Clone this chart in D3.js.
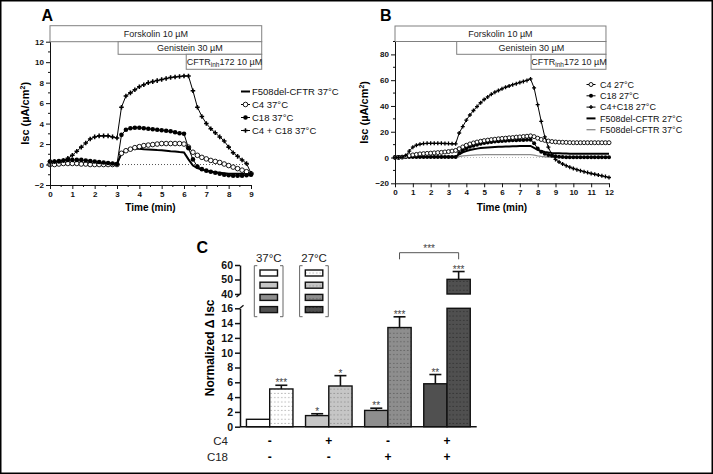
<!DOCTYPE html>
<html><head><meta charset="utf-8">
<script src="https://cdn.jsdelivr.net/npm/d3@7"></script>
<style>body{margin:0;background:#fff} svg{display:block} text{font-family:Arial,"Liberation Sans",sans-serif}</style>
</head><body>
<svg id="c" width="713" height="474"></svg>
<script>
// ---------- Panel A data (time in min, Isc in µA/cm²) ----------
const timeA = [0,0.2,0.4,0.6,0.8,1,1.2,1.4,1.6,1.8,2,2.2,2.4,2.6,2.8,3,3.2,3.4,3.6,3.8,4,4.2,4.4,4.6,4.8,5,5.2,5.4,5.6,5.8,6,6.2,6.4,6.6,6.8,7,7.2,7.4,7.6,7.8,8,8.2,8.4,8.6,8.8,9];
const a_F508 = [0.1,0.1,0.1,0.1,0.1,0.1,0.1,0.1,0.1,0.1,0.1,0.1,0.1,0.1,0.1,0.05,1.1,1.35,1.5,1.55,1.55,1.5,1.48,1.45,1.42,1.4,1.35,1.3,1.27,1.22,1.18,0.5,-0.1,-0.35,-0.5,-0.6,-0.7,-0.75,-0.8,-0.85,-0.9,-0.9,-0.9,-0.9,-0.9,-0.9];
const a_C4 = [0,0,0.05,0.1,0.1,0.1,0.1,0.05,0.05,0,0,0,0,0,0,0,1.1,1.35,1.5,1.65,1.75,1.85,1.9,1.95,2.0,2.05,2.05,2.05,2.05,2.05,2.0,1.7,1.2,0.9,0.7,0.55,0.4,0.3,0.2,0.05,-0.1,-0.25,-0.4,-0.55,-0.7,-0.9];
const a_C18 = [0.3,0.3,0.35,0.4,0.45,0.45,0.45,0.45,0.4,0.35,0.3,0.25,0.2,0.15,0.1,0.05,2.9,3.4,3.55,3.6,3.6,3.55,3.5,3.45,3.4,3.35,3.3,3.25,3.15,3.05,3.0,1.6,0.5,-0.2,-0.45,-0.6,-0.7,-0.8,-0.9,-1.0,-1.05,-1.1,-1.1,-1.1,-1.05,-1.0];
const a_C4C18 = [0.3,0.3,0.3,0.4,0.6,0.9,1.3,1.7,2.1,2.5,2.7,2.8,2.8,2.8,2.7,2.6,5.6,6.7,7.0,7.3,7.6,7.8,8.0,8.1,8.2,8.3,8.4,8.5,8.55,8.6,8.65,8.65,7.2,5.6,4.7,4.0,3.5,3.1,2.7,2.3,1.7,1.15,0.8,0.45,0.1,-0.85];
const legendA = ["F508del-CFTR 37°C","C4 37°C","C18 37°C","C4 + C18 37°C"];

// ---------- Panel B data ----------
const timeB = [0,0.2,0.4,0.6,0.8,1,1.2,1.4,1.6,1.8,2,2.2,2.4,2.6,2.8,3,3.2,3.4,3.6,3.8,4,4.2,4.4,4.6,4.8,5,5.2,5.4,5.6,5.8,6,6.2,6.4,6.6,6.8,7,7.2,7.4,7.6,7.8,8,8.2,8.4,8.6,8.8,9,9.2,9.4,9.6,9.8,10,10.2,10.4,10.6,10.8,11,11.2,11.4,11.6,11.8,12];
const b_C4 = [0,0,0.3,0.8,1.5,2,2.4,2.8,3.0,3.2,3.4,3.6,3.8,4.0,4.3,4.6,5.0,5.5,6.8,8.2,9.5,10.5,11.3,12,12.6,13.1,13.5,13.9,14.2,14.5,14.8,15.0,15.3,15.5,15.8,16.0,16.3,16.5,16.8,16.2,15,14,13.3,12.8,12.4,12.1,11.9,11.8,11.7,11.6,11.5,11.5,11.5,11.5,11.5,11.5,11.5,11.5,11.5,11.5,11.5];
const b_C18 = [0.4,0.4,0.4,0.4,0.4,0.4,0.4,0.4,0.4,0.4,0.4,0.4,0.4,0.4,0.4,0.4,0.4,0.4,3.5,5.5,7.2,8.3,9.2,10,10.7,11.2,11.7,12.1,12.4,12.6,12.8,13,13.2,13.3,13.4,13.5,13.6,13.7,13.8,11,7,4.5,3,2,1.3,0.9,0.6,0.4,0.3,0.3,0.3,0.3,0.3,0.3,0.3,0.3,0.3,0.3,0.3,0.3,0.3];
const b_C4C18 = [0,0,0.3,1.5,5,8,9.5,10.3,10.8,11,11,11,11,11,10.9,10.8,10.7,10.6,19,24,29,33,36.5,39.5,42.5,45,47,49,50.7,52,53.3,54.5,55.5,56.5,57.3,58.2,59,59.8,61,54,41,28,16,8,2,-1.5,-3.5,-5,-6.3,-7.5,-8.5,-9.4,-10.2,-11,-11.7,-12.4,-13,-13.6,-14.2,-14.8,-15.5];
const b_F27 = [0.5,0.5,0.5,0.5,0.5,0.5,0.5,0.5,0.5,0.5,0.5,0.5,0.5,0.5,0.5,0.5,0.5,0.5,2.5,4,5,5.8,6.4,6.9,7.3,7.6,7.8,8.0,8.2,8.3,8.4,8.5,8.6,8.7,8.8,8.9,9.0,9.0,9.0,7.5,6,5,4.3,3.9,3.6,3.4,3.3,3.2,3.1,3.0,3.0,3.0,3.0,3.0,3.0,3.0,3.0,3.0,3.0,3.0,3.0];
const b_F37 = [0.2,0.2,0.2,0.2,0.2,0.2,0.2,0.2,0.2,0.2,0.2,0.2,0.2,0.2,0.2,0.2,0.2,0.2,0.8,1.2,1.5,1.7,1.9,2.0,2.1,2.2,2.2,2.2,2.2,2.2,2.2,2.2,2.2,2.2,2.2,2.2,2.2,2.2,2.2,1.8,1.3,0.9,0.6,0.4,0.3,0.2,0.2,0.2,0.2,0.2,0.2,0.2,0.2,0.2,0.2,0.2,0.2,0.2,0.2,0.2,0.2];
const legendB = ["C4 27°C","C18 27°C","C4+C18 27°C","F508del-CFTR 27°C","F508del-CFTR 37°C"];

const treatNames = ["Forskolin 10 µM","Genistein 30 µM","CFTRinh172 10 µM"];
const treatStartA = [0,3.05,6.1], treatEndA = 9.48;
const treatStartB = [0,3.46,7.63], treatEndB = 11.83;

// ---------- Panel C data ----------
const groupsC = ["g1","g2","g3","g4"];
const c4Signs = ["-","+","-","+"];
const c18Signs = ["-","-","+","+"];
const mean37 = [1.0,1.5,2.2,5.8];
const sem37 = [0,0.25,0.3,1.25];
const mean27 = [5.1,5.5,13.4,50.1];
const sem27 = [0.5,1.4,1.45,5.4];
const stars37 = ["","*","**","**"];
const stars27 = ["***","*","***","***"];
const lowTicks = [0,2,4,6,8,10,12,14,16];
const highTicks = [40,50,60];
const legendTemps = ["37°C","27°C"];

const fills = ["#ffffff","#c6c6c6","#8e8e8e","#505050"];
const dotCols = ["#8a8a8a","#7a7a7a","#4a4a4a","#222222"];

const svg = d3.select("#c");
const defs = svg.append("defs");
fills.forEach((f,i)=>{
  const p = defs.append("pattern").attr("id","dots"+i).attr("patternUnits","userSpaceOnUse")
    .attr("width",3.5).attr("height",4.3);
  p.append("rect").attr("width",3.5).attr("height",4.3).attr("fill",f);
  p.append("circle").attr("cx",1.75).attr("cy",2.1).attr("r",0.55).attr("fill",dotCols[i]);
});

svg.append("rect").attr("x",0.75).attr("y",0.75).attr("width",711.5).attr("height",472.5)
  .attr("fill","none").attr("stroke","#000").attr("stroke-width",1.5);

function marker(g, type, cx, cy, r){
  if(type==="open") g.append("circle").attr("cx",cx).attr("cy",cy).attr("r",r).attr("fill","#fff").attr("stroke","#000").attr("stroke-width",0.9);
  else if(type==="filled") g.append("circle").attr("cx",cx).attr("cy",cy).attr("r",r).attr("fill","#000");
  else if(type==="plus") g.append("path").attr("d",d3.symbol(d3.symbolCross, r*r*2.2)()).attr("transform",`translate(${cx},${cy})`).attr("fill","#000");
}

function tracePanel(cfg){
  const g = svg.append("g");
  const x = d3.scaleLinear(cfg.xDomain, cfg.xRange);
  const y = d3.scaleLinear(cfg.yDomain, cfg.yRange);
  cfg.starts.forEach((s,i)=>{
    const x0 = x(s), x1 = x(cfg.end), y0 = cfg.rowY[i], y1 = cfg.rowY[i+1];
    g.append("rect").attr("x",x0).attr("y",y0).attr("width",x1-x0).attr("height",y1-y0)
      .attr("fill","#fff").attr("stroke","#808080").attr("stroke-width",1);
    const t = g.append("text").attr("x",(x0+x1)/2 + (i===2?0.5:0)).attr("y",(y0+y1)/2+3.2)
      .attr("text-anchor","middle").attr("font-size",9).attr("fill","#222");
    if(i===2){
      t.append("tspan").text("CFTR");
      t.append("tspan").attr("font-size",6.5).attr("dy",2).text("inh");
      t.append("tspan").attr("dy",-2).text("172 10 µM");
    } else t.text(treatNames[i]);
  });
  g.append("line").attr("x1",x(cfg.xDomain[0])).attr("x2",x(cfg.xDomain[1])).attr("y1",y(0)).attr("y2",y(0))
    .attr("stroke",cfg.zeroCol).attr("stroke-width",1).attr("stroke-dasharray","1,2");
  cfg.series.forEach(s=>{
    const pts = cfg.times.map((t,i)=>[x(t),y(s.vals[i])]);
    g.append("path").attr("d",d3.line()(pts)).attr("fill","none").attr("stroke",s.col||"#000").attr("stroke-width",s.w);
    if(s.m){ const mg=g.append("g"); pts.forEach(p=>marker(mg,s.m,p[0],p[1],cfg.r)); }
  });
  const ax = g.append("g").attr("transform",`translate(0,${y(cfg.yDomain[0])})`)
    .call(d3.axisBottom(x).tickValues(cfg.xTicks).tickSize(4).tickSizeOuter(0).tickPadding(2).tickFormat(d3.format("d")));
  const ay = g.append("g").attr("transform",`translate(${x(cfg.xDomain[0])},0)`)
    .call(d3.axisLeft(y).tickValues(cfg.yTicks).tickSize(4).tickSizeOuter(0).tickPadding(2).tickFormat(d3.format("d")));
  [ax,ay].forEach(a=>{
    a.selectAll("text").attr("font-size",8).attr("font-weight","bold").attr("fill","#111").attr("font-family","Arial, Liberation Sans, sans-serif");
    a.selectAll("line,path").attr("stroke","#111").attr("stroke-width",1);
  });
  cfg.yMinor.forEach(v=>g.append("line").attr("x1",x(cfg.xDomain[0])-2).attr("x2",x(cfg.xDomain[0])).attr("y1",y(v)).attr("y2",y(v)).attr("stroke","#111"));
  cfg.xMinor.forEach(v=>g.append("line").attr("x1",x(v)).attr("x2",x(v)).attr("y1",y(cfg.yDomain[0])).attr("y2",y(cfg.yDomain[0])+2).attr("stroke","#111"));
  g.append("text").attr("x",(cfg.xRange[0]+cfg.xRange[1])/2).attr("y",210.5).attr("text-anchor","middle")
    .attr("font-size",10).attr("font-weight","bold").text("Time (min)");
  const yl = g.append("text").attr("transform",`translate(${cfg.yLabX},${(cfg.yRange[0]+cfg.yRange[1])/2}) rotate(-90)`)
    .attr("text-anchor","middle").attr("font-size",11).attr("font-weight","bold");
  yl.append("tspan").text("Isc (µA/cm");
  yl.append("tspan").attr("font-size",7).attr("dy",-4).text("2");
  yl.append("tspan").attr("dy",4).text(")");
  g.append("text").attr("x",cfg.panelX).attr("y",20.5).attr("font-size",16).attr("font-weight","bold").text(cfg.panel);
  cfg.legend.forEach((name,i)=>{
    const s = cfg.series[cfg.legOrder[i]];
    const ly = cfg.legY + cfg.legDy*i;
    g.append("line").attr("x1",cfg.legX).attr("x2",cfg.legX+9).attr("y1",ly).attr("y2",ly).attr("stroke",s.col||"#000").attr("stroke-width",s.w);
    if(s.m) marker(g,s.m,cfg.legX+4.5,ly,cfg.r);
    g.append("text").attr("x",cfg.legTX).attr("y",ly+3.3).attr("font-size",cfg.legFs).attr("fill","#111").text(name);
  });
}

tracePanel({
  panel:"A", panelX:41.5, xDomain:[0,9], xRange:[50,251], yDomain:[-2,12], yRange:[185,41.7],
  times:timeA, starts:treatStartA, end:treatEndA, rowY:[25.7,41.7,54.3,69.3], zeroCol:"#555",
  xTicks:[0,1,2,3,4,5,6,7,8,9], yTicks:[-2,0,2,4,6,8,10,12], yMinor:[-1,1,3,5,7,9,11], xMinor:[0.5,1.5,2.5,3.5,4.5,5.5,6.5,7.5,8.5],
  r:2.3, yLabX:29,
  series:[{vals:a_F508,w:2},{vals:a_C4,w:1,m:"open"},{vals:a_C18,w:1,m:"filled"},{vals:a_C4C18,w:1,m:"plus"}],
  legend:legendA, legOrder:[0,1,2,3], legX:241, legTX:252, legY:91.5, legDy:13, legFs:9.5
});

tracePanel({
  panel:"B", panelX:380, xDomain:[0,12], xRange:[395,609], yDomain:[-20,90], yRange:[183.3,41.5],
  times:timeB, starts:treatStartB, end:treatEndB, rowY:[26,41.5,54.3,69.3], zeroCol:"#bbb",
  xTicks:[0,1,2,3,4,5,6,7,8,9,10,11,12], yTicks:[-20,0,20,40,60,80], yMinor:[-10,10,30,50,70,90], xMinor:[],
  r:2,  yLabX:368,
  series:[{vals:b_F37,w:1.3,col:"#8c8c8c"},{vals:b_F27,w:2},{vals:b_C18,w:1,m:"filled"},{vals:b_C4,w:1,m:"open"},{vals:b_C4C18,w:1,m:"plus"}],
  legend:legendB, legOrder:[3,2,4,1,0], legX:586.5, legTX:600, legY:84.5, legDy:11.3, legFs:9
});

// ---------- Panel C ----------
const gc = svg.append("g");
const xC = d3.scaleBand(groupsC,[240,476.7]).paddingInner(0.213).paddingOuter(0.109);
const yLow = d3.scaleLinear([0,16],[426.7,308.3]);
const yHigh = d3.scaleLinear([40,60],[294,265]);
const bw = xC.bandwidth()/2;

gc.append("text").attr("x",196.5).attr("y",253).attr("font-size",16).attr("font-weight","bold").text("C");

const axL = gc.append("g").attr("transform","translate(240,0)")
  .call(d3.axisLeft(yLow).tickValues(lowTicks).tickSize(5).tickSizeOuter(0).tickPadding(2));
const axH = gc.append("g").attr("transform","translate(240,0)")
  .call(d3.axisLeft(yHigh).tickValues(highTicks).tickSize(5).tickSizeOuter(0).tickPadding(2));
[axL,axH].forEach(a=>{
  a.selectAll("text").attr("font-size",10.5).attr("font-weight","bold").attr("fill","#111").attr("font-family","Arial, Liberation Sans, sans-serif");
  a.selectAll("line,path").attr("stroke","#111").attr("stroke-width",1.5);
});
gc.append("line").attr("x1",240).attr("x2",243.5).attr("y1",yLow(16)).attr("y2",yLow(16)-3).attr("stroke","#111").attr("stroke-width",1.3);
gc.append("line").attr("x1",236.5).attr("x2",240).attr("y1",yHigh(40)+3).attr("y2",yHigh(40)).attr("stroke","#111").attr("stroke-width",1.3);
gc.append("text").attr("transform",`translate(213.5,${(426.7+265)/2+2}) rotate(-90)`).attr("text-anchor","middle")
  .attr("font-size",12).attr("font-weight","bold").text("Normalized \u0394 Isc");

function barPiece(x0, yTop, yBot, fill){
  gc.append("rect").attr("x",x0).attr("y",yTop).attr("width",bw).attr("height",yBot-yTop)
    .attr("fill",fill).attr("stroke","#111").attr("stroke-width",1.4);
}
function errBar(cx, yTop, yEnd, stars){
  if(yEnd<yTop){
    gc.append("line").attr("x1",cx).attr("x2",cx).attr("y1",yTop).attr("y2",yEnd).attr("stroke","#111").attr("stroke-width",1.6);
    gc.append("line").attr("x1",cx-6).attr("x2",cx+6).attr("y1",yEnd).attr("y2",yEnd).attr("stroke","#111").attr("stroke-width",1.6);
  }
  if(stars) gc.append("text").attr("x",cx).attr("y",yEnd+1).attr("text-anchor","middle").attr("font-size",10).attr("fill","#444").text(stars);
}
groupsC.forEach((gname,i)=>{
  const x0 = xC(gname);
  [[mean37[i],sem37[i],fills[i],stars37[i]],[mean27[i],sem27[i],`url(#dots${i})`,stars27[i]]].forEach((b,j)=>{
    const bx = x0 + j*bw, v=b[0], e=b[1];
    let top;
    if(v<=16){ top = yLow(v); barPiece(bx, top, yLow(0), b[2]); errBar(bx+bw/2, top, yLow(v+e), b[3]); }
    else { barPiece(bx, yLow(16), yLow(0), b[2]); top=yHigh(v); barPiece(bx, top, yHigh(40), b[2]); errBar(bx+bw/2, top, yHigh(v+e), b[3]); }
  });
  gc.append("text").attr("x",x0+bw).attr("y",445).attr("text-anchor","middle").attr("font-size",12).attr("font-weight","bold").text(c4Signs[i]);
  gc.append("text").attr("x",x0+bw).attr("y",461).attr("text-anchor","middle").attr("font-size",12).attr("font-weight","bold").text(c18Signs[i]);
});
gc.append("line").attr("x1",240).attr("x2",476.7).attr("y1",yLow(0)).attr("y2",yLow(0)).attr("stroke","#111").attr("stroke-width",1.6);
gc.append("text").attr("x",228).attr("y",445).attr("text-anchor","end").attr("font-size",11.5).attr("fill","#222").text("C4");
gc.append("text").attr("x",228).attr("y",461).attr("text-anchor","end").attr("font-size",11.5).attr("fill","#222").text("C18");

const bxA = xC("g3")+bw*1.5, bxB = xC("g4")+bw*1.5;
gc.append("path").attr("d",`M${bxA},259.3V252.7H${bxB}V259.3`).attr("fill","none").attr("stroke","#555").attr("stroke-width",1);
gc.append("text").attr("x",(bxA+bxB)/2).attr("y",252).attr("text-anchor","middle").attr("font-size",10).attr("fill","#444").text("***");

legendTemps.forEach((lab,k)=>{
  const bx = k===0 ? 260 : 305.3;
  const bL = bx-5.7, bR = bx+23;
  gc.append("text").attr("x",bx+8.8).attr("y",261.5).attr("text-anchor","middle").attr("font-size",11.5).attr("fill","#222").text(lab);
  gc.append("path").attr("d",`M${bL+3},265.7H${bL}V316.7H${bL+3}`).attr("fill","none").attr("stroke","#666").attr("stroke-width",1);
  gc.append("path").attr("d",`M${bR-3},265.7H${bR}V316.7H${bR-3}`).attr("fill","none").attr("stroke","#666").attr("stroke-width",1);
  fills.forEach((f,i)=>{
    gc.append("rect").attr("x",bx).attr("y",270+12.2*i).attr("width",17.5).attr("height",6)
      .attr("fill", k===0 ? f : `url(#dots${i})`).attr("stroke","#111").attr("stroke-width",1.4);
  });
});
</script>
</body></html>
